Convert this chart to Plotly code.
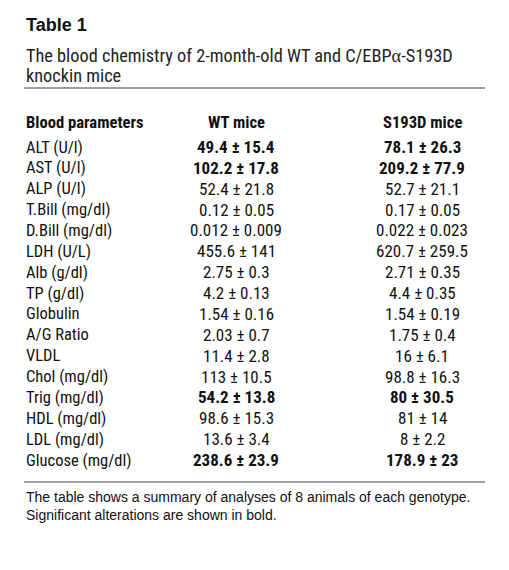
import plotly.graph_objects as go

title = "Table 1"
subtitle = ["The blood chemistry of 2-month-old WT and C/EBP<span style=\"font-family:'Liberation Serif'\">α</span>-S193D",
            "knockin mice"]
headers = ["Blood parameters", "WT mice", "S193D mice"]
params = ["ALT (U/l)", "AST (U/l)", "ALP (U/l)", "T.Bill (mg/dl)", "D.Bill (mg/dl)", "LDH (U/L)",
          "Alb (g/dl)", "TP (g/dl)", "Globulin", "A/G Ratio", "VLDL", "Chol (mg/dl)",
          "Trig (mg/dl)", "HDL (mg/dl)", "LDL (mg/dl)", "Glucose (mg/dl)"]
wt_mean = ["49.4", "102.2", "52.4", "0.12", "0.012", "455.6", "2.75", "4.2", "1.54", "2.03",
           "11.4", "113", "54.2", "98.6", "13.6", "238.6"]
wt_sd = ["15.4", "17.8", "21.8", "0.05", "0.009", "141", "0.3", "0.13", "0.16", "0.7",
         "2.8", "10.5", "13.8", "15.3", "3.4", "23.9"]
ki_mean = ["78.1", "209.2", "52.7", "0.17", "0.022", "620.7", "2.71", "4.4", "1.54", "1.75",
           "16", "98.8", "80", "81", "8", "178.9"]
ki_sd = ["26.3", "77.9", "21.1", "0.05", "0.023", "259.5", "0.35", "0.35", "0.19", "0.4",
         "6.1", "16.3", "30.5", "14", "2.2", "23"]
significant = [True, True, False, False, False, False, False, False, False, False,
               False, False, True, False, False, True]
footnote = ["The table shows a summary of analyses of 8 animals of each genotype.",
            "Significant alterations are shown in bold."]

NARROW = "Roboto Condensed, Liberation Sans, Arial, sans-serif"
REG = "Liberation Sans, Arial, Helvetica, sans-serif"
W, H = 509, 570
LEFT = 24
COL_WT, COL_KI = 236, 422
ROW0, ROWH = 147, 20.87

fig = go.Figure()
ann = []
ann.append(dict(x=LEFT, y=25, text="<b>%s</b>" % title, xanchor="left", yanchor="middle",
                font=dict(family=REG, size=18, color="#111")))
for i, s in enumerate(subtitle):
    ann.append(dict(x=LEFT, y=55 + 20 * i, text=s, xanchor="left", yanchor="middle",
                    font=dict(family=NARROW, size=18.3, color="#222")))
hx = [LEFT, COL_WT, COL_KI]
ha = ["left", "center", "center"]
for h, x, a in zip(headers, hx, ha):
    ann.append(dict(x=x, y=122, text="<b>%s</b>" % h, xanchor=a, yanchor="middle",
                    font=dict(family=NARROW, size=16.6, color="#111")))
for i, p in enumerate(params):
    y = ROW0 + i * ROWH
    ann.append(dict(x=LEFT, y=y, text=p, xanchor="left", yanchor="middle",
                    font=dict(family=NARROW, size=16.5, color="#111")))
    for x, m, s in [(COL_WT, wt_mean[i], wt_sd[i]), (COL_KI, ki_mean[i], ki_sd[i])]:
        t = "%s ± %s" % (m, s)
        if significant[i]:
            t = "<b>%s</b>" % t
        ann.append(dict(x=x, y=y, text=t, xanchor="center", yanchor="middle",
                        font=dict(family=NARROW, size=17, color="#111")))
for i, f in enumerate(footnote):
    ann.append(dict(x=LEFT, y=497 + 18 * i, text=f, xanchor="left", yanchor="middle",
                    font=dict(family=REG, size=14, color="#111")))
for a in ann:
    a.update(xref="x", yref="y", showarrow=False)

shapes = [
    dict(type="line", xref="x", yref="y", x0=LEFT, x1=485, y0=88, y1=88,
         line=dict(color="#a0a0a0", width=2)),
    dict(type="line", xref="x", yref="y", x0=LEFT, x1=485, y0=482, y1=482,
         line=dict(color="#a0a0a0", width=2)),
]

fig.add_trace(go.Scatter(x=[0, W], y=[0, H], mode="markers", marker=dict(opacity=0),
                         hoverinfo="skip", showlegend=False))
fig.update_layout(width=W, height=H, margin=dict(l=0, r=0, t=0, b=0),
                  paper_bgcolor="white", plot_bgcolor="white",
                  xaxis=dict(range=[0, W], visible=False, fixedrange=True),
                  yaxis=dict(range=[H, 0], visible=False, fixedrange=True),
                  annotations=ann, shapes=shapes)
fig.write_html("out.html", config={"displayModeBar": False},
               post_script="document.body.style.margin='0';")
